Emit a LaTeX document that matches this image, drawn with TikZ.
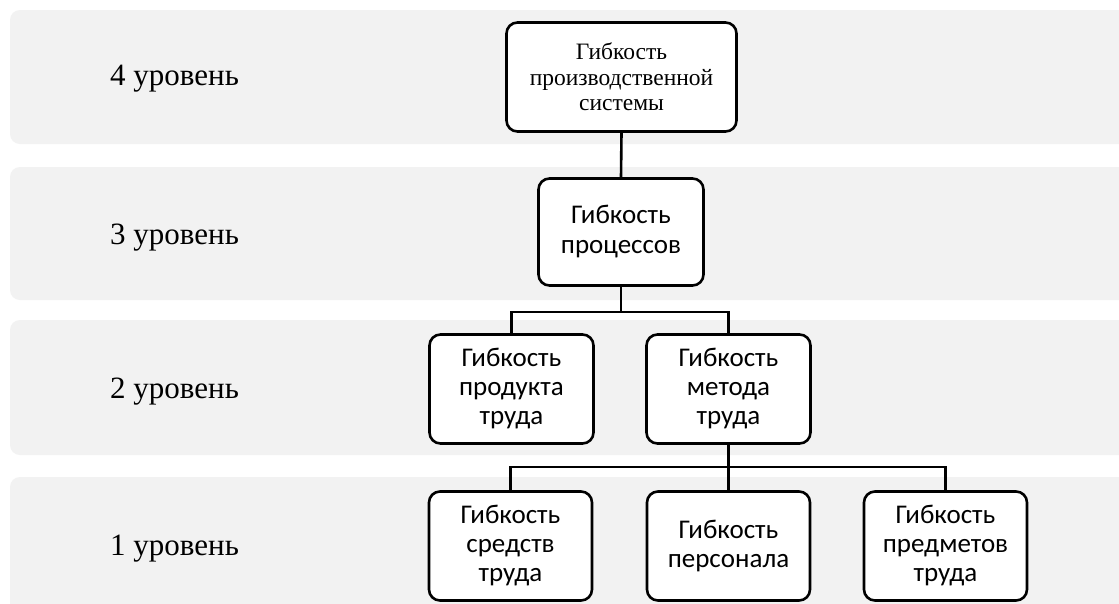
\documentclass[tikz,border=0pt]{standalone}
\usepackage{fontspec}
\setmainfont{Liberation Serif}
\newfontfamily\boxfont{Carlito}
\definecolor{bandgray}{RGB}{242,242,242}
\begin{document}
\begin{tikzpicture}[x=1pt,y=-1pt,
  band/.style={fill=bandgray, rounded corners=10pt},
  lvl/.style={anchor=west, inner sep=0pt, font=\fontsize{31}{36}\selectfont},
  box/.style={draw, line width=2.6pt, rounded corners=11pt, fill=white,
    align=center, inner sep=0pt},
  serifbox/.style={box, font=\fontsize{23.5}{25.5}\selectfont},
  sansbox/.style={box, font=\boxfont\fontsize{27}{29}\selectfont},
  link/.style={line width=2.6pt}]
  \useasboundingbox (0,0) rectangle (1119,603);
  \fill[white] (0,0) rectangle (1119,603);
  % level bands
  \begin{scope}
    \clip (0,0) rectangle (1119,603);
    \fill[band] (10,10) rectangle (1140,144);
    \fill[band] (10,167) rectangle (1140,300);
    \fill[band] (10,320) rectangle (1140,455);
    \fill[band] (10,477) rectangle (1140,640);
  \end{scope}
  % level labels
  \node[lvl] (l4) at (110,79) {4 уровень};
  \node[lvl] (l3) at (110,238) {3 уровень};
  \node[lvl] (l2) at (110,392) {2 уровень};
  \node[lvl] (l1) at (110,549) {1 уровень};
  % boxes
  \node[serifbox, minimum width=230pt, minimum height=109pt] (top) at (621.5,77)
    {Гибкость\\производственной\\системы};
  \node[sansbox, minimum width=165pt, minimum height=107pt,
    font=\boxfont\fontsize{27}{30}\selectfont] (p3) at (621,232)
    {Гибкость\\процессов};
  \node[sansbox, minimum width=164pt, minimum height=109pt] (p2a) at (511.5,389)
    {Гибкость\\продукта\\труда};
  \node[sansbox, minimum width=164pt, minimum height=109pt] (p2b) at (728.5,389)
    {Гибкость\\метода\\труда};
  \node[sansbox, minimum width=163pt, minimum height=109pt] (p1a) at (510.5,546)
    {Гибкость\\средств\\труда};
  \node[sansbox, minimum width=163pt, minimum height=109pt] (p1b) at (728.5,546)
    {Гибкость\\персонала};
  \node[sansbox, minimum width=163pt, minimum height=109pt] (p1c) at (945.5,546)
    {Гибкость\\предметов\\труда};
  % connectors
  \coordinate (j2) at (621,312);
  \coordinate (j1) at (728.5,467);
  \draw[link] (top.south) -- (p3.north);
  \draw[link] (p3.south) -- (j2);
  \draw[link] (p2a.north) |- (j2) -| (p2b.north);
  \draw[link] (p2b.south) -- (p1b.north);
  \draw[link] (p1a.north) |- (j1) -| (p1c.north);
\end{tikzpicture}
\end{document}
